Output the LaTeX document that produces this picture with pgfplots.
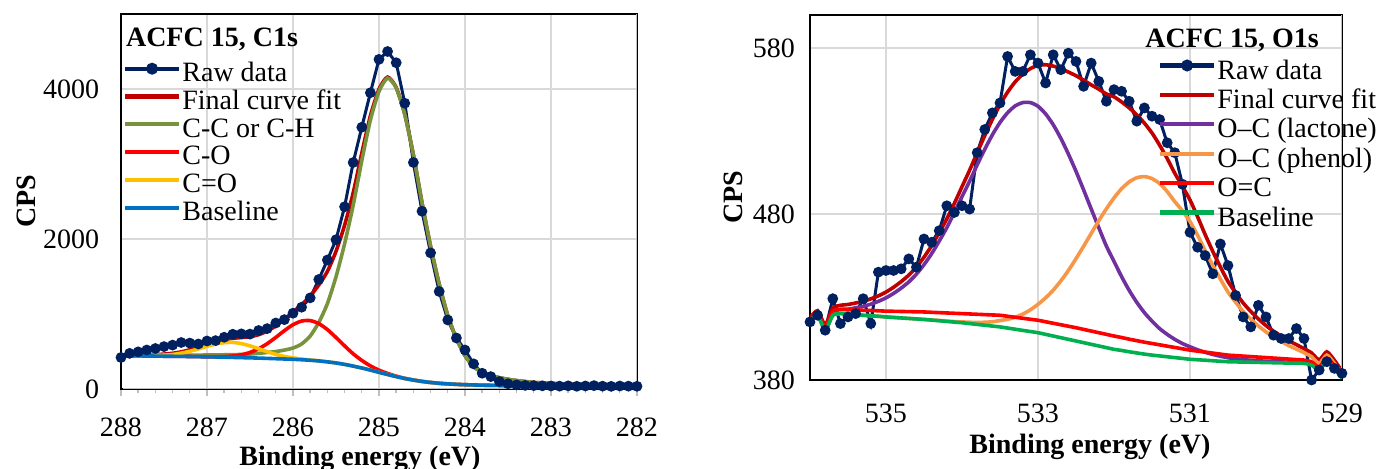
\documentclass[border=0pt]{standalone}
\usepackage{fontspec}
\setmainfont{Liberation Serif}
\usepackage{pgfplots}
\usepackage{pgfplotstable}
\pgfplotsset{compat=1.18}

\definecolor{rawc}{HTML}{002060}
\definecolor{fitc}{HTML}{C00000}
\definecolor{ccc}{HTML}{77933C}
\definecolor{coc}{HTML}{FF0000}
\definecolor{cdoc}{HTML}{FFC000}
\definecolor{basec}{HTML}{0070C0}
\definecolor{lacc}{HTML}{7030A0}
\definecolor{phec}{HTML}{F79646}
\definecolor{basegc}{HTML}{00B050}
\definecolor{gridc}{HTML}{D9D9D9}
\definecolor{axgrey}{HTML}{BFBFBF}

% C1s: binding energy, raw, fit, C-C, C-O, C=O, baseline
\pgfplotstableread{
x raw fit cc co cdo base
288.0 420 453 453 442 442 442
287.9 475 454 454 442 442 442
287.8 495 454 453 441 442 441
287.7 520 455 453 440 442 440
287.6 540 458 453 439 444 439
287.5 565 465 452 437 450 437
287.4 585 476 452 436 460 436
287.3 620 495 452 435 478 435
287.2 612 522 452 433 503 433
287.1 600 555 452 431 534 431
287.0 640 594 453 430 569 429
286.9 645 629 454 430 599 427
286.8 690 658 456 432 618 424
286.7 730 676 457 440 621 421
286.6 735 686 461 456 605 418
286.5 732 698 466 487 575 415
286.4 780 724 475 536 537 412
286.3 805 772 487 604 497 408
286.2 880 841 499 688 462 404
286.1 925 931 519 778 434 400
286.0 1010 1026 546 857 415 396
285.9 1090 1125 600 906 399 390
285.8 1215 1239 706 912 387 383
285.7 1460 1387 887 872 376 374
285.6 1720 1568 1138 792 362 362
285.5 1990 1835 1495 687 347 347
285.4 2430 2183 1936 575 328 328
285.3 3020 2615 2451 469 305 305
285.2 3490 3145 3044 381 280 280
285.1 3950 3642 3586 308 252 252
285.0 4395 3997 3968 251 222 222
284.9 4500 4159 4145 207 193 193
284.8 4350 4020 4014 171 165 165
284.7 3810 3662 3660 142 140 140
284.6 3020 3122 3121 120 119 119
284.5 2370 2485 2485 101 101 101
284.4 1815 1901 1901 87 87 87
284.3 1300 1399 1399 76 76 76
284.2 920 979 979 68 68 68
284.1 680 672 672 62 62 62
284.0 520 445 445 57 57 57
283.9 335 300 300 54 54 54
283.8 210 221 221 51 51 51
283.7 165 180 180 49 49 49
283.6 100 150 150 47 47 47
283.5 70 129 129 46 46 46
283.4 55 112 112 45 45 45
283.3 48 99 99 44 44 44
283.2 45 87 87 43 43 43
283.1 42 82 82 42 42 42
283.0 40 76 76 42 42 42
282.9 38 69 69 41 41 41
282.8 42 66 66 41 41 41
282.7 36 62 62 40 40 40
282.6 40 60 60 40 40 40
282.5 45 58 58 40 40 40
282.4 38 55 55 39 39 39
282.3 35 54 54 39 39 39
282.2 40 53 53 39 39 39
282.1 38 51 51 38 38 38
282.0 36 50 50 38 38 38
}\cone

% O1s: binding energy, raw, fit, lactone, phenol, O=C, baseline
\pgfplotstableread{
x raw fit lac phe oc base
536.0 415 417.5 416 415 416.5 415
535.9 419 421.8 420.2 419 420.6 419
535.8 410 413.3 411.5 410 411.8 410
535.7 429 423.2 421 419 421.2 419
535.6 414 425 422.5 420 422.5 420
535.5 418 425.5 422.7 419.5 422.3 419.5
535.4 420 426.4 423.5 419.3 422.2 419.3
535.3 429 427.4 424.4 419 422 419
535.2 414 428.9 425.7 418.7 421.9 418.7
535.1 445 430.7 427.4 418.4 421.7 418.4
535.0 446 433 429.5 418 421.5 418
534.9 446 435.9 432.2 417.7 421.4 417.7
534.8 447 439.3 435.4 417.4 421.3 417.4
534.7 453 443.2 439.1 417.1 421.2 417.1
534.6 448 448.1 443.8 416.8 421.1 416.8
534.5 465 454 449.5 416.5 421 416.5
534.4 463 460.9 456.1 416.2 420.8 416.1
534.3 470 468.8 463.7 415.9 420.6 415.7
534.2 485 477.1 471.8 415.5 420.4 415.3
534.1 481 486.5 480.9 415.2 420.2 414.9
534.0 485 496.5 490.5 415 420 414.5
533.9 483 506.4 499.8 414.8 419.8 414
533.8 517 517 509.7 414.7 419.6 413.5
533.7 531 527.3 519.1 414.8 419.4 413
533.6 541 537.1 527.8 415.1 419.2 412.5
533.5 547 546 535.2 415.8 419 412
533.4 575 553.5 541.1 416.6 418.4 411.3
533.3 566 559.7 545.2 417.9 417.8 410.6
533.2 566 564.3 547.2 419.7 417.2 409.9
533.1 576 567.7 547.2 422.3 416.6 409.2
533.0 571 569.6 545 425.6 416 408.5
532.9 559 570 540.4 429.5 415.1 407.5
532.8 576 569.2 533.9 434.1 414.2 406.5
532.7 567 567.7 525.7 439.7 413.3 405.5
532.6 577 565.6 516.2 446 412.4 404.5
532.5 572 563.4 505.8 453.1 411.5 403.5
532.4 557 560.7 494.6 460.6 410.5 402.5
532.3 571 557.9 483.1 468.3 409.5 401.5
532.2 560 555.3 471.8 476 408.5 400.5
532.1 548 552.4 460.7 483.2 407.5 399.5
532.0 555 550.7 451.5 489.7 406.5 398.5
531.9 554 547.6 442.3 495.3 405.6 397.8
531.8 548 544 434 499.4 404.6 397
531.7 536 539.8 426.8 501.9 403.7 396.3
531.6 544 534.8 420.6 502.6 402.8 395.6
531.5 539 528.9 415.5 501.4 402 395
531.4 537 521.6 411 498.4 401.2 394.5
531.3 523 513.5 407.5 493.6 400.4 394
531.2 517 504.6 404.5 487.5 399.6 393.5
531.1 498 496.8 402 482 398.8 393
531.0 469 488.5 400 475.5 398 392.5
530.9 460 478.4 398.2 467.2 397.4 392.2
530.8 455 467.6 396.7 457.9 396.8 391.9
530.7 444 457.5 395.4 449.1 396.2 391.6
530.6 462 448.1 394.3 440.8 395.6 391.3
530.5 449 439.4 393.4 433 395 391
530.4 431 432.6 392.8 426.9 394.7 390.9
530.3 418 426.4 392.3 421.3 394.4 390.8
530.2 412 421.3 391.9 416.7 394.1 390.7
530.1 425 416.8 391.6 412.6 393.8 390.6
530.0 418 412.8 391.3 409 393.5 390.5
529.9 407 409.4 391.1 405.9 393.2 390.4
529.8 405 406.5 390.9 403.3 392.9 390.3
529.7 405 403.6 390.7 400.7 392.6 390.2
529.6 411 401.3 390.6 398.6 392.3 390.1
529.5 405 398.9 390.4 396.5 392 390
529.4 380 396.3 389.4 394 390.9 389
529.3 386 392.1 386.3 390 387.8 386
529.2 391 397 391.8 395 393.2 391.5
529.1 387 391.9 387.3 390 388.6 387
529.0 384 385.3 381.3 383.5 382.5 381
}\oone

\pgfplotsset{
  xps/.style={
    scale only axis,
    anchor=south west,
    x dir=reverse,
    font=\fontsize{14}{16}\selectfont,
    /pgf/number format/assume math mode=true,
    /pgf/number format/set thousands separator={},
    grid=major,
    major grid style={color=gridc, line width=0.7pt},
    axis line style={black, line width=1.1pt},
    ytick style={draw=none},
    yticklabel style={xshift=-4pt},
    xlabel style={font=\fontsize{14}{16}\selectfont\bfseries},
    ylabel style={font=\fontsize{14}{16}\selectfont\bfseries},
    legend cell align=left,
    legend style={draw=none, fill=none, inner sep=0pt, outer sep=0pt,
      row sep=0pt, font=\fontsize{14}{16}\selectfont,
      nodes={inner sep=0.6pt, text depth=3.5pt}},
    legend image code/.code={
      \draw[#1, line width=2.1pt, mark repeat=2, mark phase=2]
        plot coordinates {(0pt,3.6pt) (13.5pt,3.6pt) (27pt,3.6pt)};},
  },
  rawline/.style={color=rawc, line width=1.5pt, mark=*, mark size=1.9pt,
    mark options={fill=rawc, draw=rawc}},
  curve/.style={line width=1.8pt, no markers, smooth, tension=0.4},
}

\begin{document}
\begin{tikzpicture}[x=1pt,y=1pt]
\path[use as bounding box] (0,0) rectangle (689,234.5);

% ---- C1s ----
\begin{axis}[xps,
  at={(60.5pt,40pt)}, width=258pt, height=187.5pt,
  xmin=282, xmax=288, ymin=0, ymax=5000,
  xtick={282,283,...,288}, ytick={0,2000,4000},
  minor x tick num=4,
  xtick pos=bottom, tick align=outside,
  x tick style={color=axgrey, line width=0.7pt},
  major tick length=3.4pt, minor tick length=2pt,
  xticklabel style={yshift=-7.5pt},
  xlabel={Binding energy (eV)},
  xlabel style={xshift=-9.5pt, yshift=2pt},
  ylabel={CPS},
  ylabel style={yshift=-3pt},
  legend style={at={(rel axis cs:0,1)}, anchor=north west, xshift=1pt, yshift=-24pt,
    nodes={text height=9.2pt}},
]
\addplot[rawline] table[x=x, y=raw] {\cone};
\addlegendentry{Raw data}
\addplot[curve, color=fitc] table[x=x, y=fit] {\cone};
\addlegendentry{Final curve fit}
\addplot[curve, color=ccc] table[x=x, y=cc] {\cone};
\addlegendentry{C-C or C-H}
\addplot[curve, color=coc] table[x=x, y=co] {\cone};
\addlegendentry{C-O}
\addplot[curve, color=cdoc] table[x=x, y=cdo] {\cone};
\addlegendentry{C=O}
\addplot[curve, color=basec] table[x=x, y=base] {\cone};
\addlegendentry{Baseline}
\draw[axgrey, line width=1.1pt] (rel axis cs:1,0) -- (rel axis cs:1,1);
\draw[axgrey, line width=1.1pt] (rel axis cs:0.003,0) -- (rel axis cs:1,0);
\node[anchor=west, font=\fontsize{14}{16}\selectfont\bfseries]
  at (rel axis cs:0,1) [xshift=-1pt, yshift=-12.5pt] {ACFC 15, C1s};
\end{axis}

% ---- O1s ----
\begin{axis}[xps,
  at={(405pt,44.5pt)}, width=266pt, height=182.5pt,
  xmin=529, xmax=536, ymin=380, ymax=600,
  xtick={529,531,533,535}, ytick={380,480,580},
  major tick length=0pt,
  xticklabel style={yshift=-8.5pt},
  xlabel={Binding energy (eV)},
  xlabel style={xshift=7pt, yshift=1.5pt},
  ylabel={CPS},
  ylabel style={yshift=-2pt},
  legend style={at={(rel axis cs:0,1)}, anchor=north west, xshift=174pt, yshift=-21.5pt,
    nodes={text height=10pt}},
]
\addplot[rawline] table[x=x, y=raw] {\oone};
\addlegendentry{Raw data}
\addplot[curve, color=fitc] table[x=x, y=fit] {\oone};
\addlegendentry{Final curve fit}
\addplot[curve, color=lacc] table[x=x, y=lac] {\oone};
\addlegendentry{O–C (lactone)}
\addplot[curve, color=phec] table[x=x, y=phe] {\oone};
\addlegendentry{O–C (phenol)}
\addplot[curve, color=coc] table[x=x, y=oc] {\oone};
\addlegendentry{O=C}
\addplot[curve, color=basegc] table[x=x, y=base] {\oone};
\addlegendentry{Baseline}
\draw[axgrey, line width=1.1pt] (rel axis cs:1,0.003) -- (rel axis cs:1,1);
\node[anchor=east, font=\fontsize{14}{16}\selectfont\bfseries]
  at (rel axis cs:1,1) [xshift=-8pt, yshift=-12.5pt] {ACFC 15, O1s};
\end{axis}
\end{tikzpicture}
\end{document}
